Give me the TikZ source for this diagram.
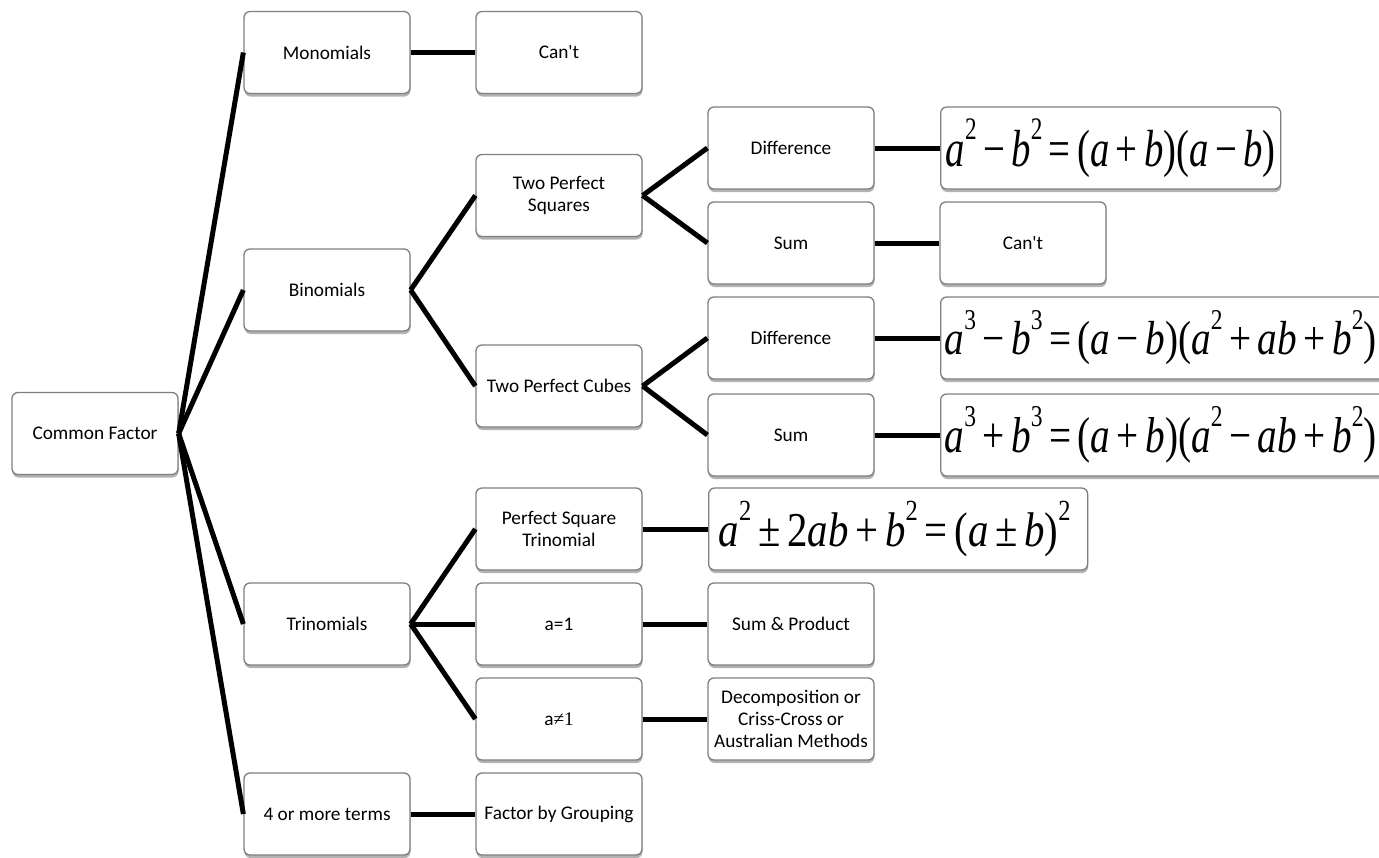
\documentclass[tikz,border=0pt]{standalone}
\usepackage{fontspec}
\usepackage{graphicx}
\setmainfont{Carlito}[Ligatures=TeXOff]
\newfontfamily\fmfont{Liberation Serif}
\usetikzlibrary{shadows}
\definecolor{boxgray}{HTML}{7F7F7F}
\newcommand{\vv}[1]{\textit{#1}}
\newcommand{\ex}[1]{\raisebox{0.52em}{\scalebox{0.6}{#1}}}
\newcommand{\op}[1]{\,#1\,}
\tikzset{
  box/.style={draw=boxgray, line width=1.3pt, rounded corners=6pt, fill=white,
    minimum width=166pt, minimum height=82pt, align=center, inner sep=2pt,
    font=\fontsize{19.3}{22}\selectfont,
    drop shadow={shadow xshift=0.5pt, shadow yshift=-3pt, opacity=0.3, fill=black}},
  fbox/.style={box, anchor=west, minimum width=0pt, inner ysep=0pt},
  conn/.style={line width=5pt, draw=black},
}
\begin{document}
\begin{tikzpicture}[x=1pt,y=-1pt]
\useasboundingbox (0,0) rectangle (1379,857);
\clip (0,0) rectangle (1379,857);
% column 0/1
\node[box] (cf) at (95,433.5) {Common Factor};
\node[box] (mono) at (327,52.5) {Monomials};
\node[box] (bino) at (327,290) {Binomials};
\node[box] (trin) at (327,624) {Trinomials};
\node[box] (four) at (327,814) {4 or more terms};
% column 2
\node[box] (cant1) at (559,52.5) {Can't};
\node[box] (tps) at (559,195.5) {Two Perfect\\Squares};
\node[box] (tpc) at (559,386) {Two Perfect Cubes};
\node[box] (pst) at (559,529) {Perfect Square\\Trinomial};
\node[box] (a1) at (559,624) {a=1};
\node[box] (an1) at (559,719) {a{\fmfont ≠1}};
\node[box] (fbg) at (559,814) {Factor by Grouping};
% column 3
\node[box] (d1) at (791,148) {Difference};
\node[box] (s1) at (791,243) {Sum};
\node[box] (d2) at (791,338) {Difference};
\node[box] (s2) at (791,435) {Sum};
\node[box] (sp) at (791,624) {Sum \& Product};
\node[box] (dec) at (791,719) {Decomposition or\\Criss-Cross or\\Australian Methods};
% column 4
\node[box] (cant2) at (1023,243) {Can't};
\node[fbox, inner xsep=5pt] (f1) at (940,148) {\resizebox*{330pt}{59pt}{\fmfont
  \vv{a}\ex{2}\op{−}\vv{b}\ex{2}\op{=}(\vv{a}\op{+}\vv{b})(\vv{a}\op{−}\vv{b})}};
\node[fbox, inner xsep=4pt] (f2) at (940,338) {\makebox[452pt][l]{\resizebox*{432pt}{54pt}{\fmfont
  \vv{a}\ex{3}\op{−}\vv{b}\ex{3}\op{=}(\vv{a}\op{−}\vv{b})(\vv{a}\ex{2}\op{+}\vv{ab}\op{+}\vv{b}\ex{2})}}};
\node[fbox, inner xsep=4pt] (f3) at (940,435) {\makebox[452pt][l]{\resizebox*{432pt}{57pt}{\fmfont
  \vv{a}\ex{3}\op{+}\vv{b}\ex{3}\op{=}(\vv{a}\op{+}\vv{b})(\vv{a}\ex{2}\op{−}\vv{ab}\op{+}\vv{b}\ex{2})}}};
\node[fbox, inner xsep=10pt] (f4) at (708,529) {\makebox[359pt][l]{\resizebox*{352pt}{55pt}{\fmfont
  \vv{a}\ex{2}\op{±}2\vv{ab}\op{+}\vv{b}\ex{2}\op{=}(\vv{a}\op{±}\vv{b})\ex{2}}}};
% connectors
\foreach \t in {mono,bino,trin,four} \draw[conn] (cf.east) -- (\t.west);
\draw[conn] (mono.east) -- (cant1.west);
\draw[conn] (bino.east) -- (tps.west);
\draw[conn] (bino.east) -- (tpc.west);
\draw[conn] (tps.east) -- (d1.west);
\draw[conn] (tps.east) -- (s1.west);
\draw[conn] (tpc.east) -- (d2.west);
\draw[conn] (tpc.east) -- (s2.west);
\draw[conn] (d1.east) -- (f1.west);
\draw[conn] (s1.east) -- (cant2.west);
\draw[conn] (d2.east) -- (f2.west);
\draw[conn] (s2.east) -- (f3.west);
\draw[conn] (trin.east) -- (pst.west);
\draw[conn] (trin.east) -- (a1.west);
\draw[conn] (trin.east) -- (an1.west);
\draw[conn] (pst.east) -- (f4.west);
\draw[conn] (a1.east) -- (sp.west);
\draw[conn] (an1.east) -- (dec.west);
\draw[conn] (four.east) -- (fbg.west);
\end{tikzpicture}
\end{document}
